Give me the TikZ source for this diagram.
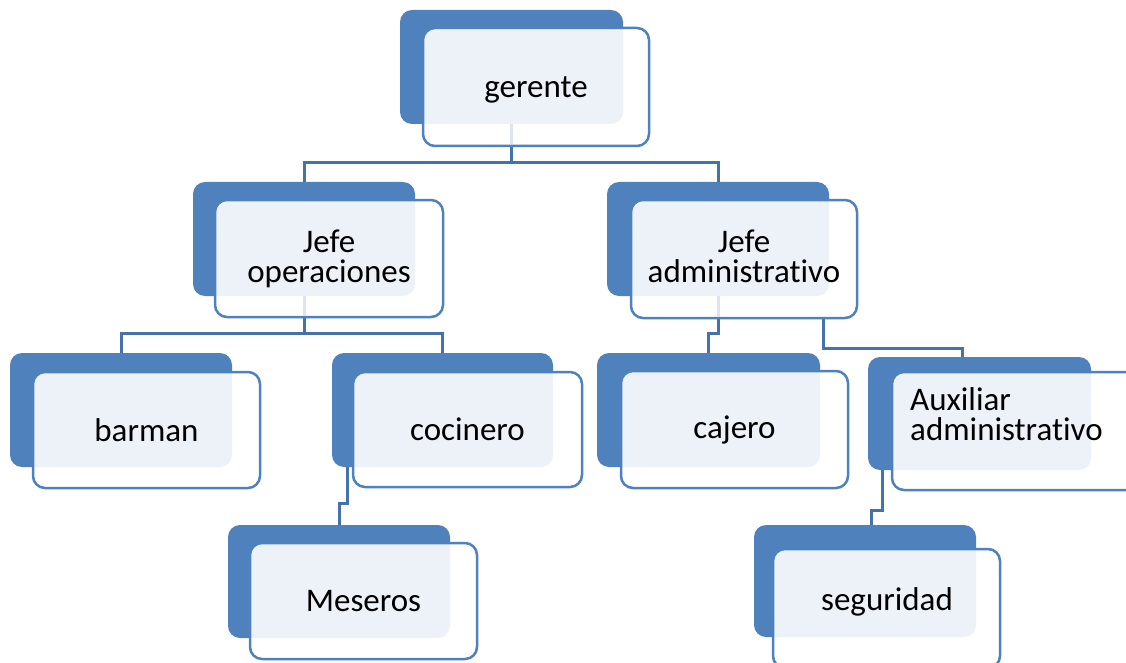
\documentclass[tikz,border=0pt]{standalone}
\usepackage{fontspec}
\setmainfont{Carlito}[Ligatures=NoCommon]
\usetikzlibrary{fit,backgrounds}
\definecolor{backblue}{HTML}{4F81BD}
\definecolor{edgeblue}{HTML}{4F81BD}
\definecolor{lightfill}{HTML}{EDF2F9}
\definecolor{connblue}{HTML}{4672AA}
\definecolor{faint}{HTML}{DCE4F0}
\tikzset{
  backbox/.style={fill=backblue, rounded corners=12pt, inner sep=0pt, outer sep=0pt},
  frontbox/.style={fill=white, rounded corners=12pt, inner sep=0pt, outer sep=0pt},
  conn/.style={draw=connblue, line width=3pt},
  faintline/.style={draw=faint, line width=3pt, shorten >=1.5pt},
  txt/.style={font=\fontsize{33}{30}\selectfont, align=center, text=black, inner sep=0pt},
}
\newcommand\orgbox[9]{%
  \node[backbox, fit={(#2,#3) (#4,#5)}] (#1b) {};
  \node[frontbox, fit={(#6,#7) (#8,#9)}] (#1f) {};
  \begin{scope}
    \clip[rounded corners=12pt] (#1f.south west) rectangle (#1f.north east);
    \fill[lightfill, rounded corners=12pt] (#1b.south west) rectangle (#1b.north east);
  \end{scope}
  \draw[edgeblue, line width=2.5pt, rounded corners=12pt] (#1f.south west) rectangle (#1f.north east);
}
\begin{document}
\begin{tikzpicture}[x=1pt, y=-1pt]
\useasboundingbox (0,0) rectangle (1126,663);
\clip (0,0) rectangle (1126,663);

\orgbox{g}{400}{10}{623}{124}{423}{28}{649}{146}
\orgbox{jo}{193}{182}{415}{296}{215}{200}{443}{317}
\orgbox{ja}{607}{182}{829}{296}{631}{200}{857}{318}
\orgbox{ba}{10}{353}{232}{467}{33}{372}{260}{488}
\orgbox{co}{332}{353}{553}{467}{353}{372}{582}{487}
\orgbox{me}{228}{525}{450}{638}{250}{543}{477}{659}
\orgbox{ca}{597}{353}{820}{467}{621}{371}{848}{488}
\orgbox{au}{868}{357}{1091}{470}{892}{372}{1140}{490}
\orgbox{se}{754}{525}{976}{637}{773}{549}{1000}{668}

\begin{scope}[on background layer]
  \fill[white] (0,0) rectangle (1126,663);
  \draw[conn] (gb.south) -- ++(0,39) -| (job.north);
  \draw[conn] (gb.south) -- ++(0,39) -| (jab.north);
  \draw[conn] (job.south) -- ++(0,37) -| (bab.north);
  \draw[conn] (job.south) -- ++(0,37) -| (cob.north);
  \draw[conn] (jab.south) -- ++(0,37) -| (cab.north);
  \draw[conn] ([xshift=-6pt]jab.south east) -- ++(0,52) -| ([xshift=-17.5pt]aub.north);
  \draw[conn] ([xshift=15pt]cob.south west) -- ++(0,36) -| (meb.north);
  \draw[conn] ([xshift=14pt]aub.south west) -- ++(0,40) -| ([xshift=6pt]seb.north);
\end{scope}

\draw[faintline] (gb.south) -- (gb.south |- gf.south);
\draw[faintline] (job.south) -- (job.south |- jof.south);
\draw[faintline] (jab.south) -- (jab.south |- jaf.south);

\node[txt] (gt) at ([yshift=-3pt]gf.center) {gerente};
\node[txt] (jot) at (jof.center) {Jefe\\operaciones};
\node[txt] (jat) at ([yshift=3pt]jaf.center) {Jefe\\administrativo};
\node[txt] (bat) at (baf.center) {barman};
\node[txt] (cot) at (cof.center) {cocinero};
\node[txt] (met) at (mef.center) {Meseros};
\node[txt] (cat) at (caf.center) {cajero};
\node[txt, align=left, anchor=west] (aut) at (910,414) {Auxiliar\\administrativo};
\node[txt] (set) at (887,602) {seguridad};
\end{tikzpicture}
\end{document}
